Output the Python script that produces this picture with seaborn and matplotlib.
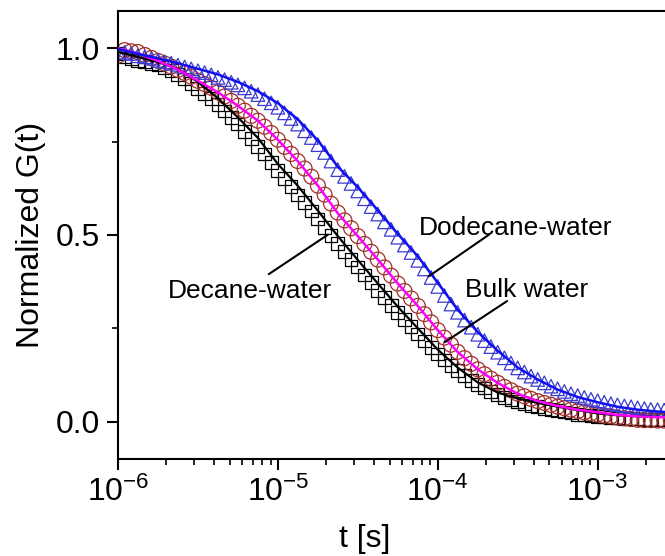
import numpy as np
import pandas as pd
import matplotlib
matplotlib.use("Agg")
import matplotlib.pyplot as plt
import seaborn as sns
from matplotlib.ticker import LogLocator, LogFormatterMathtext, MultipleLocator, FormatStrFormatter

sns.set_theme(style="ticks")
plt.rcParams["font.family"] = ["Liberation Sans", "DejaVu Sans"]
plt.rcParams["mathtext.fontset"] = "custom"
plt.rcParams["mathtext.rm"] = "Liberation Sans"
plt.rcParams["mathtext.default"] = "regular"
for key in ["text.color", "axes.labelcolor", "xtick.color", "ytick.color", "axes.edgecolor"]:
    plt.rcParams[key] = "black"

# --- lag times of the measured points [s] ---
t_data = [
    1.00e-6, 1.10e-6, 1.21e-6, 1.33e-6, 1.47e-6, 1.62e-6, 1.78e-6, 1.96e-6,
    2.15e-6, 2.37e-6, 2.61e-6, 2.87e-6, 3.16e-6, 3.48e-6, 3.83e-6, 4.22e-6,
    4.64e-6, 5.11e-6, 5.62e-6, 6.19e-6, 6.81e-6, 7.50e-6, 8.25e-6, 9.09e-6,
    1.00e-5, 1.10e-5, 1.21e-5, 1.33e-5, 1.47e-5, 1.62e-5, 1.78e-5, 1.96e-5,
    2.15e-5, 2.37e-5, 2.61e-5, 2.87e-5, 3.16e-5, 3.48e-5, 3.83e-5, 4.22e-5,
    4.64e-5, 5.11e-5, 5.62e-5, 6.19e-5, 6.81e-5, 7.50e-5, 8.25e-5, 9.09e-5,
    1.00e-4, 1.10e-4, 1.21e-4, 1.33e-4, 1.47e-4, 1.62e-4, 1.78e-4, 1.96e-4,
    2.15e-4, 2.37e-4, 2.61e-4, 2.87e-4, 3.16e-4, 3.48e-4, 3.83e-4, 4.22e-4,
    4.64e-4, 5.11e-4, 5.62e-4, 6.19e-4, 6.81e-4, 7.50e-4, 8.25e-4, 9.09e-4,
    1.00e-3, 1.10e-3, 1.21e-3, 1.33e-3, 1.47e-3, 1.62e-3, 1.78e-3, 1.96e-3,
    2.15e-3, 2.37e-3, 2.61e-3, 2.87e-3,
]

# --- measured normalized correlation G(t) ---
decane_pts = [
    0.985, 0.978, 0.973, 0.968, 0.964, 0.960, 0.955, 0.948,
    0.940, 0.930, 0.918, 0.906, 0.893, 0.879, 0.865, 0.850,
    0.832, 0.814, 0.797, 0.778, 0.758, 0.738, 0.717, 0.695,
    0.672, 0.651, 0.629, 0.607, 0.586, 0.564, 0.543, 0.521,
    0.499, 0.477, 0.456, 0.435, 0.414, 0.393, 0.373, 0.352,
    0.332, 0.312, 0.292, 0.273, 0.254, 0.235, 0.216, 0.198,
    0.181, 0.165, 0.150, 0.136, 0.123, 0.111, 0.099, 0.090,
    0.081, 0.072, 0.065, 0.059, 0.053, 0.048, 0.044, 0.040,
    0.036, 0.032, 0.029, 0.026, 0.023, 0.020, 0.018, 0.016,
    0.014, 0.013, 0.011, 0.010, 0.009, 0.008, 0.007, 0.006,
    0.006, 0.005, 0.005, 0.005,
]
bulk_pts = [
    0.980, 0.995, 0.992, 0.990, 0.982, 0.974, 0.966, 0.959,
    0.951, 0.942, 0.934, 0.924, 0.913, 0.904, 0.894, 0.882,
    0.871, 0.859, 0.846, 0.833, 0.819, 0.806, 0.790, 0.773,
    0.755, 0.736, 0.717, 0.698, 0.678, 0.656, 0.632, 0.608,
    0.584, 0.560, 0.539, 0.518, 0.497, 0.476, 0.455, 0.434,
    0.413, 0.391, 0.370, 0.350, 0.330, 0.310, 0.288, 0.266,
    0.245, 0.225, 0.206, 0.187, 0.170, 0.155, 0.140, 0.127,
    0.115, 0.104, 0.093, 0.084, 0.075, 0.068, 0.061, 0.055,
    0.050, 0.045, 0.040, 0.036, 0.032, 0.028, 0.025, 0.022,
    0.019, 0.016, 0.014, 0.011, 0.009, 0.007, 0.005, 0.004,
    0.004, 0.003, 0.003, 0.003,
]
dodecane_pts = [
    0.990, 0.989, 0.986, 0.980, 0.977, 0.973, 0.968, 0.964,
    0.960, 0.955, 0.950, 0.945, 0.940, 0.935, 0.929, 0.922,
    0.916, 0.909, 0.902, 0.894, 0.885, 0.876, 0.865, 0.854,
    0.842, 0.827, 0.812, 0.797, 0.779, 0.761, 0.742, 0.721,
    0.698, 0.675, 0.657, 0.638, 0.618, 0.597, 0.576, 0.556,
    0.535, 0.515, 0.494, 0.473, 0.453, 0.432, 0.409, 0.386,
    0.362, 0.338, 0.315, 0.293, 0.272, 0.253, 0.234, 0.217,
    0.201, 0.186, 0.171, 0.157, 0.144, 0.133, 0.122, 0.113,
    0.104, 0.095, 0.088, 0.081, 0.075, 0.070, 0.065, 0.060,
    0.056, 0.052, 0.048, 0.045, 0.042, 0.040, 0.037, 0.035,
    0.033, 0.032, 0.031, 0.031,
]

# --- fitted curves ---
t_fit = [
    1.00e-6, 1.33e-6, 1.78e-6, 2.37e-6, 3.16e-6, 4.22e-6, 5.62e-6, 7.50e-6,
    1.00e-5, 1.33e-5, 1.78e-5, 2.37e-5, 3.16e-5, 4.22e-5, 5.62e-5, 7.50e-5,
    1.00e-4, 1.33e-4, 1.78e-4, 2.37e-4, 3.16e-4, 4.22e-4, 5.62e-4, 7.50e-4,
    1.00e-3, 1.33e-3, 1.78e-3, 2.37e-3, 3.16e-3,
]
decane_fit = [
    0.990, 0.977, 0.963, 0.945, 0.910, 0.866, 0.815, 0.760,
    0.690, 0.632, 0.565, 0.497, 0.433, 0.370, 0.308, 0.250,
    0.193, 0.145, 0.105, 0.078, 0.062, 0.050, 0.040, 0.031,
    0.022, 0.017, 0.014, 0.013, 0.012,
]
bulk_fit = [
    1.000, 0.986, 0.966, 0.943, 0.913, 0.882, 0.846, 0.806,
    0.755, 0.698, 0.632, 0.558, 0.497, 0.434, 0.370, 0.310,
    0.245, 0.187, 0.140, 0.104, 0.075, 0.055, 0.042, 0.032,
    0.025, 0.018, 0.014, 0.012, 0.011,
]
dodecane_fit = [
    0.998, 0.985, 0.973, 0.960, 0.945, 0.930, 0.910, 0.885,
    0.853, 0.810, 0.753, 0.683, 0.628, 0.566, 0.503, 0.443,
    0.372, 0.300, 0.240, 0.190, 0.145, 0.113, 0.086, 0.066,
    0.052, 0.040, 0.032, 0.027, 0.024,
]

fig = plt.figure(figsize=(6.65, 5.56), dpi=100)
ax = fig.add_axes([0.1774, 0.1745, 0.836, 0.8058])
ax.set_xscale("log")

# measured points (open symbols)
sns.scatterplot(x=t_data, y=decane_pts, marker="s", s=85, color="black",
                facecolors="none", edgecolor="black", linewidth=0.9, ax=ax, zorder=2)
sns.scatterplot(x=t_data, y=bulk_pts, marker="o", s=115, color="#A0302A",
                facecolors="none", edgecolor="#A0302A", linewidth=0.9, ax=ax, zorder=2)
sns.scatterplot(x=t_data, y=dodecane_pts, marker="^", s=95, color="#3a3ad0",
                facecolors="none", edgecolor="#3a3ad0", linewidth=0.9, ax=ax, zorder=2)

# fits
sns.lineplot(x=t_fit, y=decane_fit, color="black", lw=1.6, ax=ax, zorder=3)
sns.lineplot(x=t_fit, y=bulk_fit, color="#FF00FF", lw=1.8, ax=ax, zorder=3)
sns.lineplot(x=t_fit, y=dodecane_fit, color="#1010F0", lw=1.8, ax=ax, zorder=3)

ax.set_xlim(1e-6, 3e-3)
ax.set_ylim(-0.1, 1.1)

ax.xaxis.set_major_locator(LogLocator(base=10))
ax.xaxis.set_minor_locator(LogLocator(base=10, subs=np.arange(2, 10)))
ax.xaxis.set_major_formatter(LogFormatterMathtext())
ax.yaxis.set_major_locator(MultipleLocator(0.5))
ax.yaxis.set_minor_locator(MultipleLocator(0.25))
ax.yaxis.set_major_formatter(FormatStrFormatter("%.1f"))

for side in ["left", "bottom", "top"]:
    ax.spines[side].set_linewidth(1.5)
ax.spines["right"].set_visible(False)

ax.tick_params(which="major", direction="out", length=8, width=1.5, labelsize=23, pad=5,
               top=False, right=False)
ax.tick_params(which="minor", direction="out", length=4.5, width=1.2, top=False, right=False)

ax.set_xlabel("t [s]", fontsize=23)
ax.set_ylabel("Normalized G(t)", fontsize=23)
ax.xaxis.set_label_coords(0.444, -0.145)
ax.yaxis.set_label_coords(-0.13, 0.5)

# labels with leader lines
ax.text(7.6e-5, 0.50, "Dodecane-water", fontsize=19, ha="left", va="baseline")
ax.text(1.48e-4, 0.333, "Bulk water", fontsize=19, ha="left", va="baseline")
ax.text(2.06e-6, 0.331, "Decane-water", fontsize=19, ha="left", va="baseline")
line_kw = dict(arrowstyle="-", lw=1.5, color="black", shrinkA=0, shrinkB=0)
ax.annotate("", xy=(10 ** -4.057, 0.389), xytext=(10 ** -3.679, 0.501), arrowprops=line_kw)
ax.annotate("", xy=(10 ** -3.956, 0.213), xytext=(10 ** -3.566, 0.323), arrowprops=line_kw)
ax.annotate("", xy=(10 ** -4.686, 0.501), xytext=(10 ** -5.057, 0.395), arrowprops=line_kw)

fig.savefig("out.png", dpi=100)
